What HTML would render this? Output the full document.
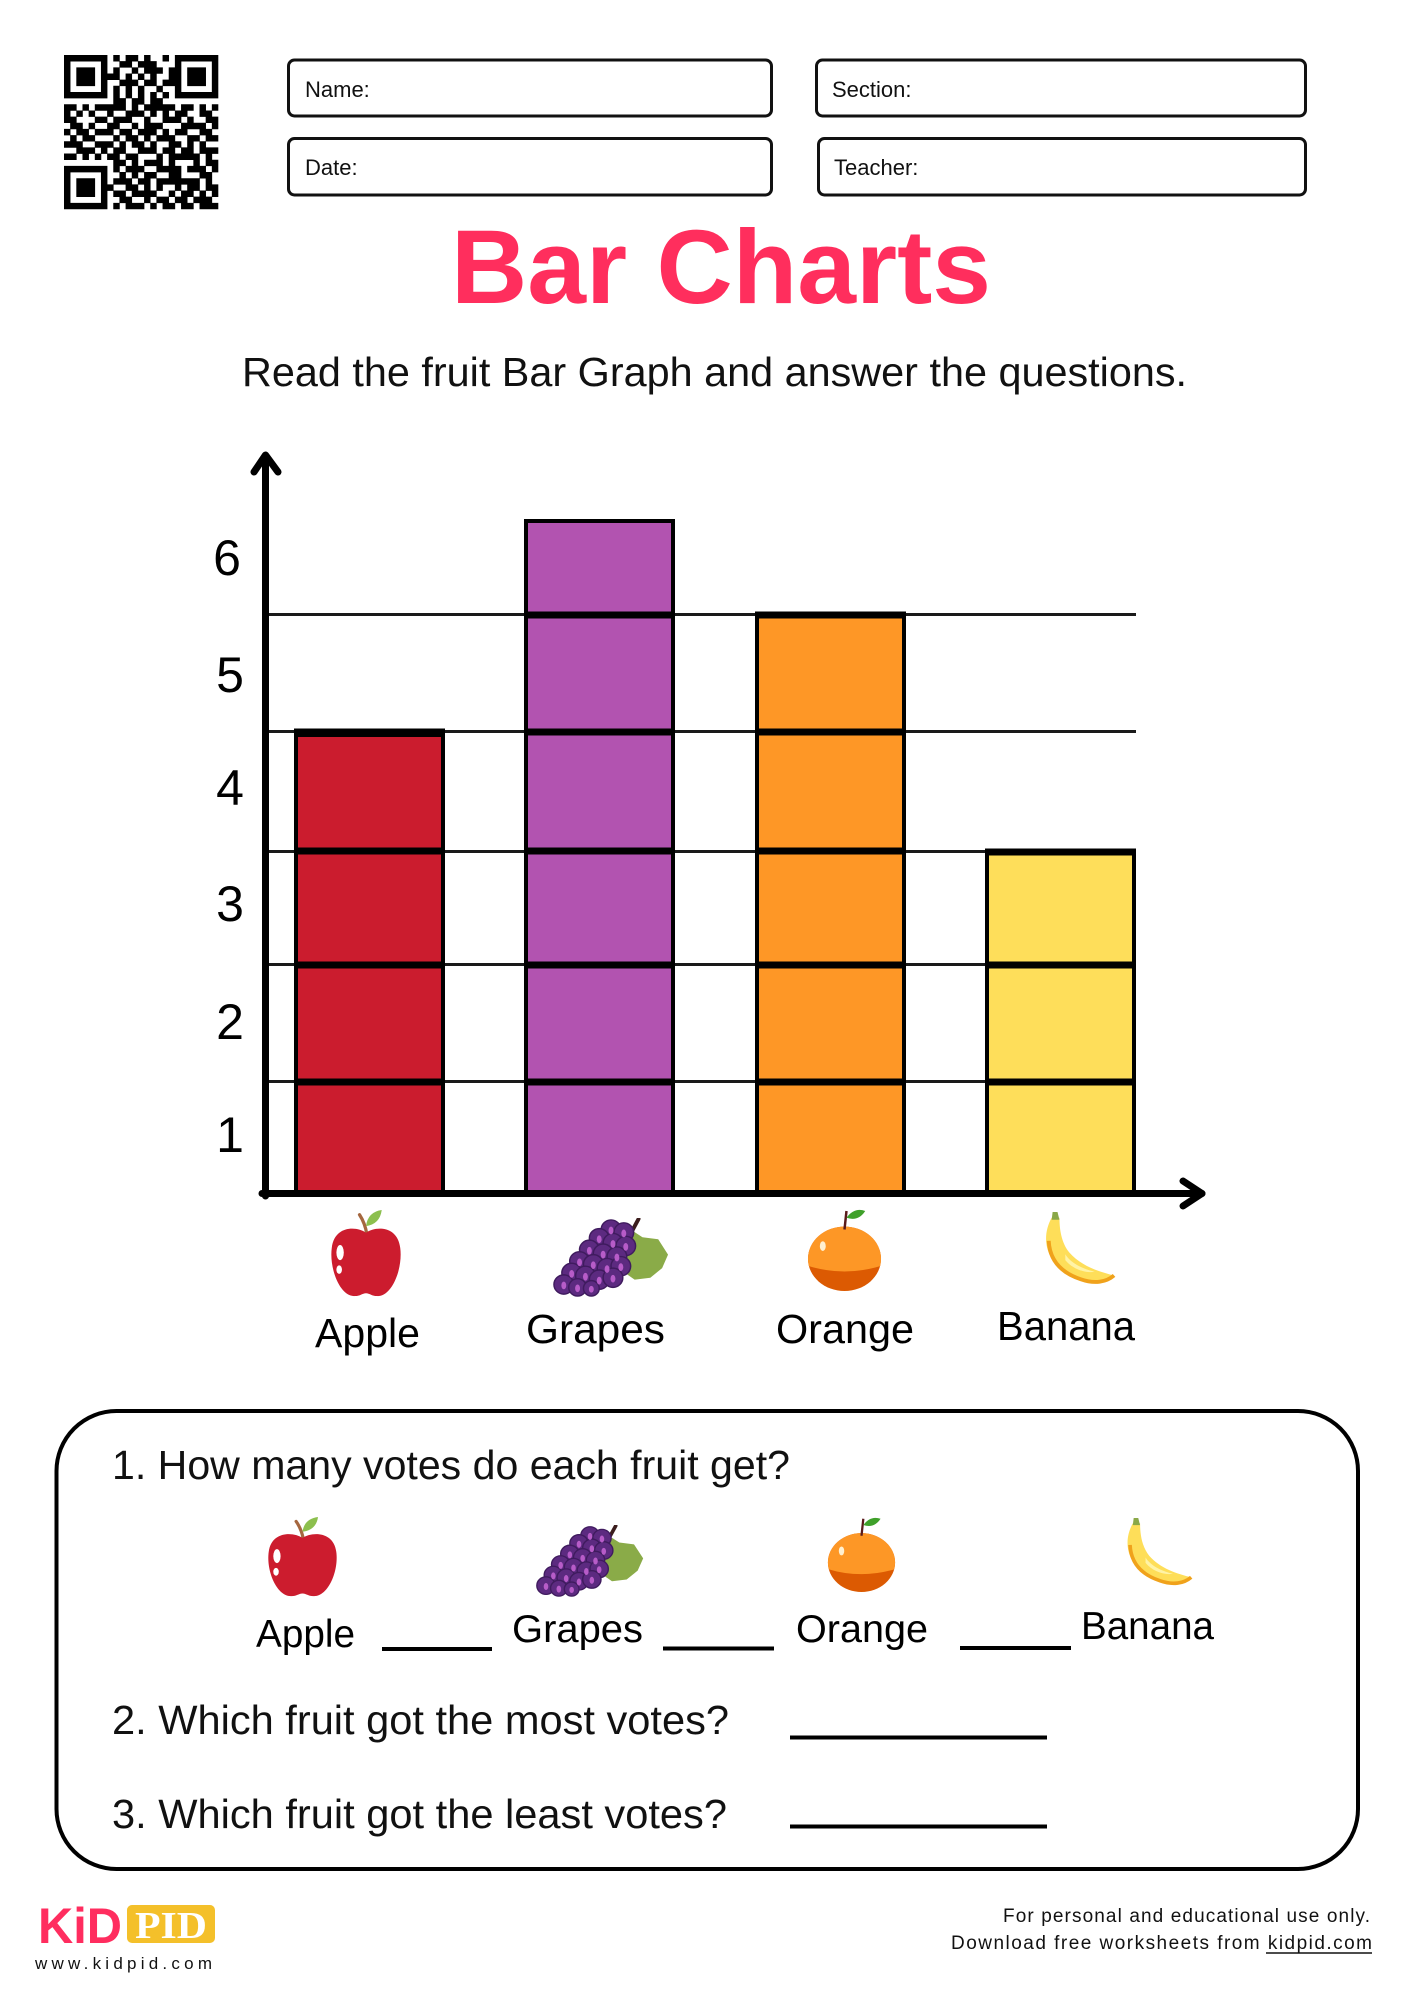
<!DOCTYPE html>
<html>
<head>
<meta charset="utf-8">
<style>
html,body{margin:0;padding:0;background:#fff;}
svg{display:block;}
text{font-family:"Liberation Sans",sans-serif;}
</style>
</head>
<body>
<svg id="page" width="1414" height="2000" viewBox="0 0 1414 2000" xmlns="http://www.w3.org/2000/svg">
<defs>
  <symbol id="apple" viewBox="0 0 80 92" preserveAspectRatio="none">
    <path d="M41 26 Q39 14 33 5" stroke="#a5673f" stroke-width="3.5" fill="none" stroke-linecap="round"/>
    <path d="M40 17 Q42 2 57 0 Q55 15 40 17 Z" fill="#8cbf4e"/>
    <path d="M40 24 C30 17 6 16 3 40 C0 62 12 92 28 91 C34 91 36 88 40 88 C44 88 46 91 52 91 C68 92 80 62 77 40 C74 16 50 17 40 24 Z" fill="#cc1c2e"/>
    <ellipse cx="12" cy="45" rx="4" ry="8" fill="#fff"/>
    <ellipse cx="11" cy="63" rx="3" ry="4.5" fill="#fff"/>
  </symbol>
  <symbol id="grapes" viewBox="0 0 120 82" preserveAspectRatio="none">
    <polygon points="62,20 80,12 92,20 108,22 118,38 112,52 100,62 84,64 70,54" fill="#8aab48"/>
    <path d="M88 1 L77 22" stroke="#3b1d1d" stroke-width="4" stroke-linecap="round"/>
    <g fill="#5c2a80" stroke="#3f1b5e" stroke-width="1.5">
      <circle cx="60" cy="12" r="10"/><circle cx="73" cy="15" r="10"/>
      <circle cx="48" cy="21" r="10"/><circle cx="62" cy="26" r="10"/><circle cx="75" cy="29" r="10"/>
      <circle cx="38" cy="33" r="10"/><circle cx="52" cy="37" r="10"/><circle cx="66" cy="40" r="10"/>
      <circle cx="28" cy="45" r="10"/><circle cx="42" cy="48" r="10"/><circle cx="56" cy="52" r="10"/><circle cx="70" cy="50" r="10"/>
      <circle cx="20" cy="57" r="10"/><circle cx="34" cy="60" r="10"/><circle cx="48" cy="64" r="10"/><circle cx="62" cy="62" r="10"/>
      <circle cx="12" cy="69" r="10"/><circle cx="26" cy="72" r="9"/><circle cx="40" cy="73" r="8"/>
    </g>
    <g fill="#b75cc8">
      <ellipse cx="60" cy="13" rx="2.5" ry="4"/><ellipse cx="73" cy="16" rx="2.5" ry="4"/>
      <ellipse cx="48" cy="22" rx="2.5" ry="4"/><ellipse cx="62" cy="27" rx="2.5" ry="4"/><ellipse cx="75" cy="30" rx="2.5" ry="4"/>
      <ellipse cx="38" cy="34" rx="2.5" ry="4"/><ellipse cx="52" cy="38" rx="2.5" ry="4"/><ellipse cx="66" cy="41" rx="2.5" ry="4"/>
      <ellipse cx="28" cy="46" rx="2.5" ry="4"/><ellipse cx="42" cy="49" rx="2.5" ry="4"/><ellipse cx="56" cy="53" rx="2.5" ry="4"/><ellipse cx="70" cy="51" rx="2.5" ry="4"/>
      <ellipse cx="20" cy="58" rx="2.5" ry="4"/><ellipse cx="34" cy="61" rx="2.5" ry="4"/><ellipse cx="48" cy="65" rx="2.5" ry="4"/><ellipse cx="62" cy="63" rx="2.5" ry="4"/>
      <ellipse cx="12" cy="70" rx="2.5" ry="4"/><ellipse cx="26" cy="73" rx="2.5" ry="4"/><ellipse cx="40" cy="74" rx="2.5" ry="3.5"/>
    </g>
  </symbol>
  <clipPath id="orclip"><ellipse cx="38" cy="51" rx="37" ry="33"/></clipPath>
  <symbol id="orange" viewBox="0 0 76 84" preserveAspectRatio="none">
    <ellipse cx="38" cy="51" rx="37" ry="33" fill="#dc5a02"/>
    <path d="M0 0 H76 V58 Q38 70 0 58 Z" fill="#fd9726" clip-path="url(#orclip)"/>
    <ellipse cx="16" cy="38" rx="3" ry="5" fill="#fff0d0"/>
    <path d="M38 21 L40 2" stroke="#5a1a1a" stroke-width="2.5"/>
    <path d="M40 9 Q48 -2 59 2 Q52 13 40 9 Z" fill="#3fa02a"/>
  </symbol>
  <symbol id="banana" viewBox="0 0 80 78" preserveAspectRatio="none">
    <path d="M14 6 C2 28 8 56 40 70 C56 76 72 74 78 66 C62 62 44 56 32 42 C24 32 22 18 22 6 Z" fill="#fede59"/>
    <path d="M11 30 C12 52 26 64 44 70 C58 75 70 73 78 66" stroke="#f0a21b" stroke-width="4" fill="none"/>
    <path d="M28 44 C34 54 48 60 58 62 C50 64 36 60 28 50 Z" fill="#fff3a6"/>
    <path d="M15 0 L20 0 L22 8 L14 8 Z" fill="#8aa848"/>
  </symbol>
</defs>

<!-- QR code -->
<g id="qrstatic" fill="#000">
  <path id="qrpath" d=""/>
</g>

<!-- Header boxes -->
<g fill="none" stroke="#111" stroke-width="3">
  <rect x="288.5" y="60" width="483" height="56" rx="6"/>
  <rect x="288.5" y="138.5" width="483" height="56.5" rx="6"/>
  <rect x="816.5" y="60" width="489" height="56" rx="6"/>
  <rect x="818.5" y="138.5" width="487" height="56.5" rx="6"/>
</g>
<g font-size="22" fill="#111">
  <text x="305" y="97">Name:</text>
  <text x="305" y="175">Date:</text>
  <text x="832" y="97">Section:</text>
  <text x="834" y="175">Teacher:</text>
</g>

<!-- Title -->
<text x="451" y="303" font-size="105" font-weight="bold" fill="#ff2e5d" textLength="540" lengthAdjust="spacingAndGlyphs">Bar Charts</text>
<text x="242" y="386" font-size="41" fill="#111" textLength="945" lengthAdjust="spacingAndGlyphs">Read the fruit Bar Graph and answer the questions.</text>

<!-- Chart gridlines -->
<g stroke="#1a1a1a" stroke-width="3">
  <line x1="268" y1="614.5" x2="1136" y2="614.5"/>
  <line x1="268" y1="731.5" x2="1136" y2="731.5"/>
  <line x1="268" y1="851.5" x2="1136" y2="851.5"/>
  <line x1="268" y1="964.5" x2="1136" y2="964.5"/>
  <line x1="268" y1="1081.5" x2="1136" y2="1081.5"/>
</g>

<!-- Bars -->
<g stroke="#000" stroke-width="4">
  <rect x="296" y="735" width="147" height="458" fill="#cb1c2e"/>
  <rect x="526" y="521" width="147" height="672" fill="#b253b0"/>
  <rect x="757" y="614" width="147" height="579" fill="#fe9726"/>
  <rect x="987" y="852" width="147" height="341" fill="#fede5a"/>
</g>
<!-- Bar separators -->
<g stroke="#000" stroke-width="7">
  <line x1="294" y1="732" x2="445" y2="732"/>
  <line x1="294" y1="851" x2="445" y2="851"/>
  <line x1="294" y1="965" x2="445" y2="965"/>
  <line x1="294" y1="1082" x2="445" y2="1082"/>

  <line x1="524" y1="615" x2="675" y2="615"/>
  <line x1="524" y1="732" x2="675" y2="732"/>
  <line x1="524" y1="851" x2="675" y2="851"/>
  <line x1="524" y1="965" x2="675" y2="965"/>
  <line x1="524" y1="1082" x2="675" y2="1082"/>

  <line x1="755" y1="615" x2="906" y2="615"/>
  <line x1="755" y1="732" x2="906" y2="732"/>
  <line x1="755" y1="851" x2="906" y2="851"/>
  <line x1="755" y1="965" x2="906" y2="965"/>
  <line x1="755" y1="1082" x2="906" y2="1082"/>

  <line x1="985" y1="852" x2="1136" y2="852"/>
  <line x1="985" y1="965" x2="1136" y2="965"/>
  <line x1="985" y1="1082" x2="1136" y2="1082"/>
</g>

<!-- Axes -->
<g stroke="#000" stroke-width="7" fill="none" stroke-linecap="round" stroke-linejoin="round">
  <line x1="265.5" y1="457" x2="265.5" y2="1196"/>
  <polyline points="254,472 265.5,455 278,472"/>
  <line x1="262" y1="1193.5" x2="1202" y2="1193.5"/>
  <polyline points="1183,1181 1202,1193.5 1183,1206"/>
</g>

<!-- Y labels -->
<g font-size="50" fill="#000" text-anchor="middle">
  <text x="227" y="575">6</text>
  <text x="230" y="692">5</text>
  <text x="230" y="805">4</text>
  <text x="230" y="921">3</text>
  <text x="230" y="1039">2</text>
  <text x="230" y="1152">1</text>
</g>

<!-- Chart fruit icons -->
<use href="#apple" x="329" y="1210" width="74" height="87"/>
<use href="#grapes" x="552" y="1218" width="118" height="79"/>
<use href="#orange" x="807" y="1209" width="75" height="82"/>
<use href="#banana" x="1038" y="1212" width="78" height="75"/>

<g font-size="41" fill="#000">
  <text x="315" y="1347" textLength="105" lengthAdjust="spacingAndGlyphs">Apple</text>
  <text x="526" y="1343" textLength="139" lengthAdjust="spacingAndGlyphs">Grapes</text>
  <text x="776" y="1343" textLength="138" lengthAdjust="spacingAndGlyphs">Orange</text>
  <text x="997" y="1340" textLength="138" lengthAdjust="spacingAndGlyphs">Banana</text>
</g>

<!-- Question box -->
<rect x="56.5" y="1411" width="1301.5" height="458" rx="60" fill="none" stroke="#000" stroke-width="4"/>
<g font-size="41" fill="#111">
  <text x="112" y="1479" textLength="678" lengthAdjust="spacingAndGlyphs">1. How many votes do each fruit get?</text>
  <text x="112" y="1734" textLength="617" lengthAdjust="spacingAndGlyphs">2. Which fruit got the most votes?</text>
  <text x="112" y="1828" textLength="615" lengthAdjust="spacingAndGlyphs">3. Which fruit got the least votes?</text>
</g>

<use href="#apple" x="266" y="1517" width="73" height="80"/>
<use href="#grapes" x="535" y="1525" width="110" height="72"/>
<use href="#orange" x="827" y="1517" width="69" height="75"/>
<use href="#banana" x="1120" y="1518" width="73" height="70"/>

<g font-size="39" fill="#000">
  <text x="256" y="1647" textLength="99" lengthAdjust="spacingAndGlyphs">Apple</text>
  <text x="512" y="1642" textLength="131" lengthAdjust="spacingAndGlyphs">Grapes</text>
  <text x="796" y="1642" textLength="132" lengthAdjust="spacingAndGlyphs">Orange</text>
  <text x="1081" y="1639" textLength="133" lengthAdjust="spacingAndGlyphs">Banana</text>
</g>

<g stroke="#000" stroke-width="4">
  <line x1="382" y1="1649" x2="492" y2="1649"/>
  <line x1="663" y1="1648.5" x2="774" y2="1648.5"/>
  <line x1="960" y1="1648" x2="1071" y2="1648"/>
  <line x1="790" y1="1737.5" x2="1047" y2="1737.5"/>
  <line x1="790" y1="1826.5" x2="1047" y2="1826.5"/>
</g>

<!-- Footer logo -->
<text x="38" y="1943" font-size="50" font-weight="bold" fill="#ff2d5f" textLength="84" lengthAdjust="spacingAndGlyphs">KiD</text>
<rect x="127" y="1905" width="88" height="38" rx="5" fill="#f4c02a"/>
<text x="171" y="1938" font-size="38" font-weight="bold" fill="#fff" text-anchor="middle" textLength="72" lengthAdjust="spacingAndGlyphs" style="font-family:'Liberation Serif',serif">PID</text>
<text x="35" y="1969" font-size="17" fill="#111" textLength="177" lengthAdjust="spacing">www.kidpid.com</text>

<!-- Footer right -->
<g font-size="19" fill="#111">
  <text x="1003" y="1922" textLength="367" lengthAdjust="spacing">For personal and educational use only.</text>
  <text x="951" y="1949" textLength="421" lengthAdjust="spacing">Download free worksheets from kidpid.com</text>
</g>
<line x1="1266" y1="1953" x2="1372" y2="1953" stroke="#111" stroke-width="1.5"/>
</svg>
<script>
(function(){
var rows=[
"1111111010110100101111111",
"1000001001101110001000001",
"1011101010010111011011101",
"1011101110101010011011101",
"1011101001110110111011101",
"1000001010101001001000001",
"1111111010101010101111111",
"0000000011011011000000000",
"1101011111010111110110101",
"1010100100111010101100110",
"1100011011100100111010011",
"0110100110010111000111101",
"1011011101101110101100110",
"0101100010110101110011011",
"1110011101011010011010100",
"0011101011001110110110111",
"1101010110110001011111010",
"0000000011010111010001011",
"1111111010111001111011101",
"1000001001010110011000110",
"1011101011101101111111010",
"1011101100110101001011011",
"1011101011011110010110101",
"1000001001100101101101110",
"1111111010111010110110111"];
var m=154/25, ox=64, oy=55, d="";
for(var y=0;y<rows.length;y++){
  var r=rows[y];
  for(var x=0;x<r.length;x++){
    if(r.charAt(x)==="1"){
      var px=(ox+x*m).toFixed(2), py=(oy+y*m).toFixed(2), s=(m+0.3).toFixed(2);
      d+="M"+px+" "+py+"h"+s+"v"+s+"h-"+s+"z";
    }
  }
}
document.getElementById("qrpath").setAttribute("d",d);
})();
</script>
</body>
</html>
